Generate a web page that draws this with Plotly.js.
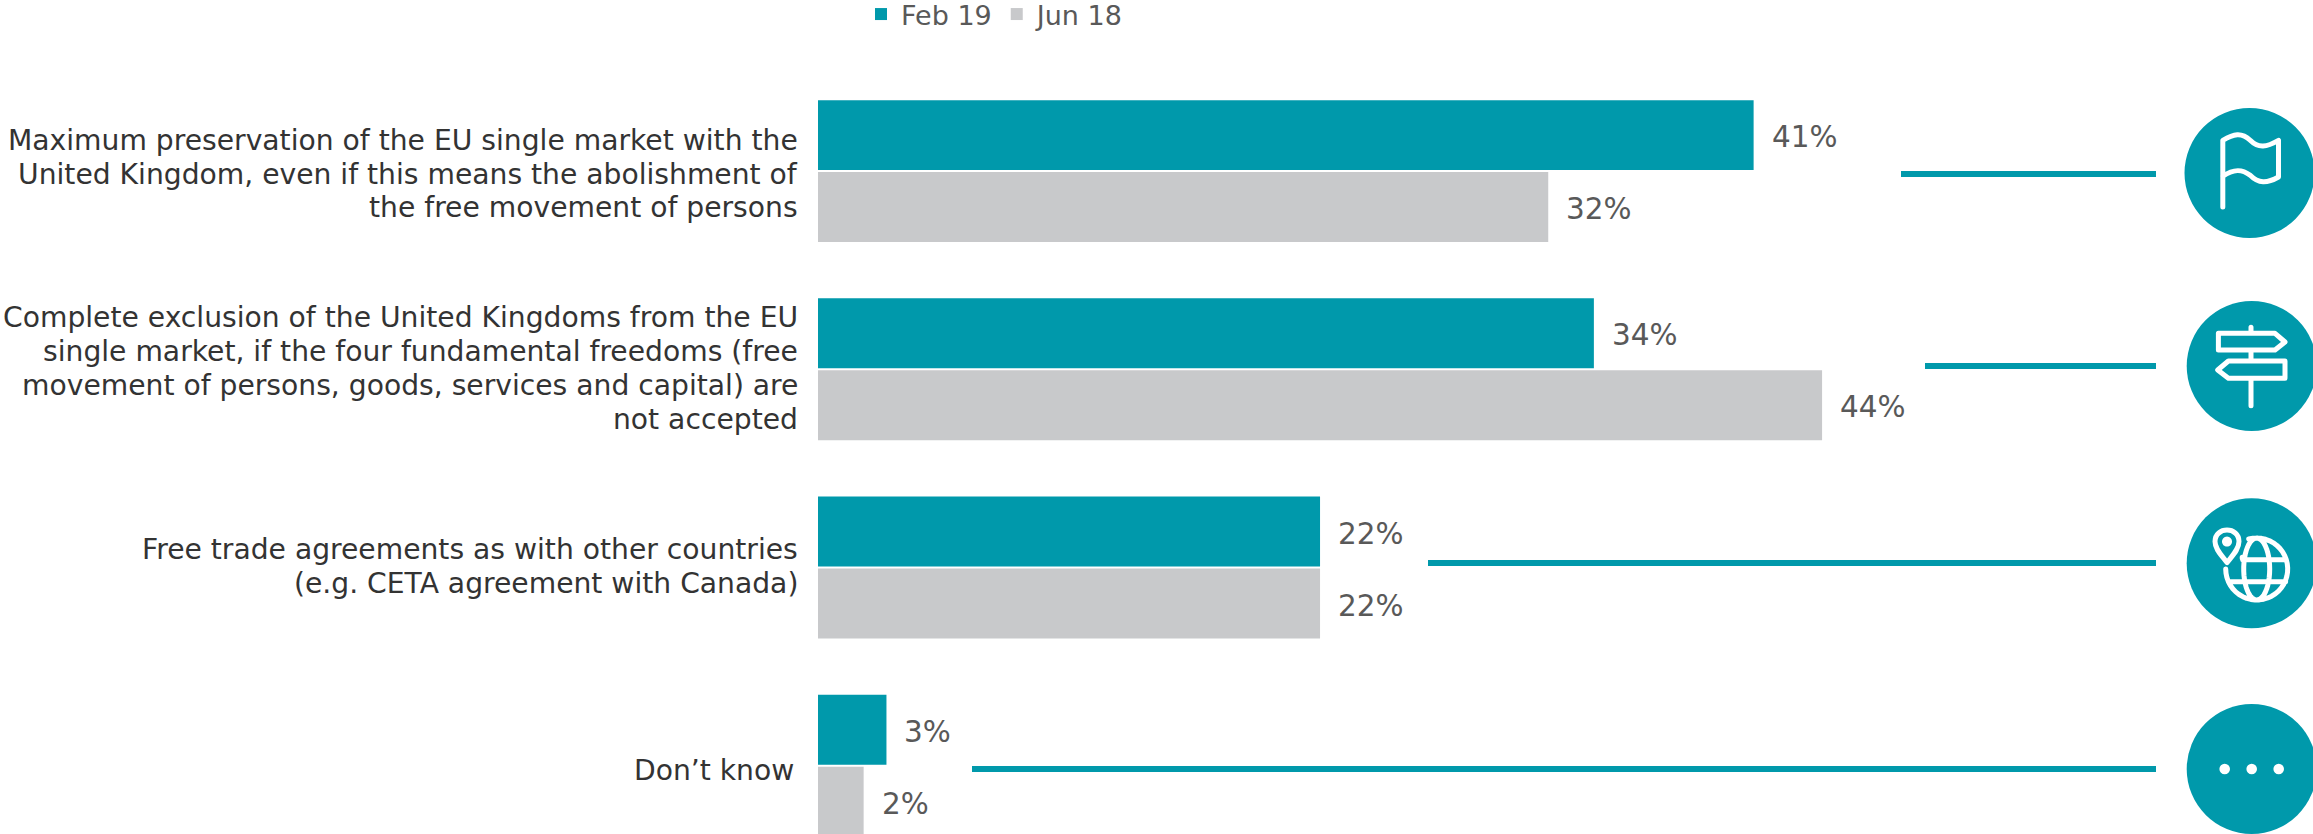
<!DOCTYPE html>
<html>
<head>
<meta charset="utf-8">
<script src="https://cdn.plot.ly/plotly-3.0.1.min.js"></script>
<style>
html,body{margin:0;padding:0;background:#fff;overflow:hidden}
.shapelayer path{stroke-linejoin:round;stroke-linecap:round}
.shapelayer path[style*="rgb(0, 153, 171)"]{stroke-linecap:butt}
</style>
</head>
<body>
<div id="chart"></div>
<script>
// Survey answers on the future relationship with the United Kingdom
const categories = [
  "Maximum preservation of the EU single market with the<br>United Kingdom, even if this means the abolishment of<br>the free movement of persons",
  "Complete exclusion of the United Kingdoms from the EU<br>single market, if the four fundamental freedoms (free<br>movement of persons, goods, services and capital) are<br>not accepted",
  "Free trade agreements as with other countries<br>(e.g. CETA agreement with Canada)",
  "Don’t know"
];
const feb19 = [41, 34, 22, 3];
const jun18 = [32, 44, 22, 2];

const TEAL = "#0099ab";
const GREY = "#c8c9cb";
const FONT = "DejaVu Sans, Verdana, sans-serif";

// Page geometry
const W = 2313, H = 834;
const plotL = 818, plotT = 72;
const plotW = W - plotL, plotH = H - plotT;
const pxPerPercent = 22.82;
const groupPitch = 198.2;

const paperX = x => (x - plotL) / plotW;
const paperY = y => 1 - (y - plotT) / plotH;

// Connector rules and round badges on the right-hand side
const rules = [
  {x0: 1901, y: 174},
  {x0: 1925, y: 366},
  {x0: 1428, y: 563},
  {x0: 972,  y: 769}
];
const badges = [
  {cx: 2249.5, cy: 173},
  {cx: 2251.7, cy: 366},
  {cx: 2251.7, cy: 563.3},
  {cx: 2251.7, cy: 769}
];
const badgeR = 65;

// Rewrites local "x y" pairs around a badge centre into a paper-space SVG path
function pathOf(cx, cy, local) {
  return local.replace(/(-?\d+(?:\.\d+)?)[ ,](-?\d+(?:\.\d+)?)/g, (m, a, b) =>
    paperX(cx + parseFloat(a)).toFixed(5) + "," + paperY(cy + parseFloat(b)).toFixed(5));
}
function arc(ox, oy, rx, ry, a0, a1) {
  let out = [];
  const steps = Math.max(8, Math.round(Math.abs(a1 - a0) / 8));
  for (let i = 0; i <= steps; i++) {
    const t = (a0 + (a1 - a0) * i / steps) * Math.PI / 180;
    out.push((i ? "L" : "M") + (ox + rx * Math.cos(t)).toFixed(2) + " " + (oy + ry * Math.sin(t)).toFixed(2));
  }
  return out.join(" ");
}

const flagIcon = "M-26.7 34 L-26.7 -32.7 C-16 -39 -8 -41 0.7 -32.7 C9 -24.3 17.3 -26 29 -32.7 L29 4 " +
  "C17.3 10.7 9 10.7 0.7 2.3 C-7.7 -4.3 -16 -4.3 -26.7 3.3";
const signIcon = "M-0.7 -38.7 L-0.7 -32.7 M-0.7 -16 L-0.7 -5 M-0.7 12.3 L-0.7 39.7 " +
  "M-33.3 -32.7 L23.3 -32.7 L33.3 -24 L23.3 -16 L-33.3 -16 Z " +
  "M33.3 -5 L-23.3 -5 L-34 4 L-23.3 12.3 L33.3 12.3 Z";
const globeIcon = arc(5, 5.7, 31, 31, -105, 180) + " " +
  arc(5, 5.7, 13, 31, 0, 360) + " " +
  "M-9 -3.5 L34.5 -3.5 M-21 18.5 L34 18.5 M-9.5 -6 L-9.5 -5 " +
  "M-24.7 -0.7 C-30 -8 -36.7 -14 -36.7 -21.7 C-36.7 -37 -12.7 -37 -12.7 -21.7 C-12.7 -14 -19 -8 -24.7 -0.7 Z " +
  arc(-24.7, -21.7, 2.5, 2.5, 0, 360);
const icons = [flagIcon, signIcon, globeIcon];
const dotOffsets = [-27, 0, 27];

const shapes = [];
rules.forEach((r, i) => {
  shapes.push({type: "line", xref: "paper", yref: "paper",
    x0: paperX(r.x0), x1: paperX(2156), y0: paperY(r.y), y1: paperY(r.y),
    line: {color: TEAL, width: 6}});
  const b = badges[i];
  shapes.push({type: "circle", xref: "paper", yref: "paper",
    x0: paperX(b.cx - badgeR), x1: paperX(b.cx + badgeR),
    y0: paperY(b.cy + badgeR), y1: paperY(b.cy - badgeR),
    fillcolor: TEAL, line: {width: 0}});
});
icons.forEach((d, i) => {
  shapes.push({type: "path", xref: "paper", yref: "paper",
    path: pathOf(badges[i].cx, badges[i].cy, d),
    line: {color: "#ffffff", width: 5}});
});
dotOffsets.forEach(dx => {
  const b = badges[3];
  shapes.push({type: "circle", xref: "paper", yref: "paper",
    x0: paperX(b.cx + dx - 5.3), x1: paperX(b.cx + dx + 5.3),
    y0: paperY(b.cy + 5.3), y1: paperY(b.cy - 5.3),
    fillcolor: "#ffffff", line: {width: 0}});
});

const annotations = [];

// Percentage labels sit a fixed distance past each bar end
[[feb19, 34], [jun18, -38]].forEach(([vals, up]) => {
  vals.forEach((v, i) => {
    annotations.push({x: v, y: i, xref: "x", yref: "y", text: v + "%",
      showarrow: false, xanchor: "left", yanchor: "middle", xshift: 16, yshift: up,
      font: {family: FONT, size: 29.5, color: "#595959"}});
  });
});

// Category labels are set line by line to keep a tight 34px leading
const lineStep = 33.8;
const labelNudge = [3, -1, -1, 5];
const labelEdge = [0, 0, 0, 4];
categories.forEach((label, i) => {
  const lines = label.split("<br>");
  lines.forEach((line, k) => {
    annotations.push({x: paperX(800 - labelEdge[i]), y: i, xref: "paper", yref: "y", text: line,
      showarrow: false, xanchor: "right", yanchor: "middle",
      yshift: -labelNudge[i] - (k - (lines.length - 1) / 2) * lineStep,
      font: {family: FONT, size: 28.2, color: "#333333"}});
  });
});

const traces = [
  {type: "bar", orientation: "h", name: "Feb 19", y: categories, x: feb19,
   marker: {color: TEAL}, hoverinfo: "x+name"},
  {type: "bar", orientation: "h", name: "Jun 18", y: categories, x: jun18,
   marker: {color: GREY}, hoverinfo: "x+name"}
];

const layout = {
  width: W, height: H,
  margin: {l: plotL, r: 0, t: plotT, b: 0, pad: 0, autoexpand: false},
  paper_bgcolor: "#ffffff", plot_bgcolor: "#ffffff",
  font: {family: FONT, size: 26, color: "#333333"},
  barmode: "group", bargap: 0.274, bargroupgap: 0.028,
  xaxis: {range: [0, plotW / pxPerPercent], visible: false, fixedrange: true},
  yaxis: {
    type: "category", categoryorder: "array", categoryarray: categories,
    range: [-0.5 + plotH / groupPitch, -0.5],
    showticklabels: false, ticks: "",
    showline: false, showgrid: false, zeroline: false, automargin: false,
    fixedrange: true
  },
  showlegend: true,
  legend: {orientation: "h", x: paperX(861), xanchor: "left", y: paperY(-10), yanchor: "top",
    font: {family: FONT, size: 27, color: "#595959"}, bgcolor: "rgba(0,0,0,0)",
    traceorder: "normal", itemclick: false, itemdoubleclick: false},
  shapes, annotations
};

Plotly.newPlot("chart", traces, layout, {displayModeBar: false, staticPlot: true});
</script>
</body>
</html>
